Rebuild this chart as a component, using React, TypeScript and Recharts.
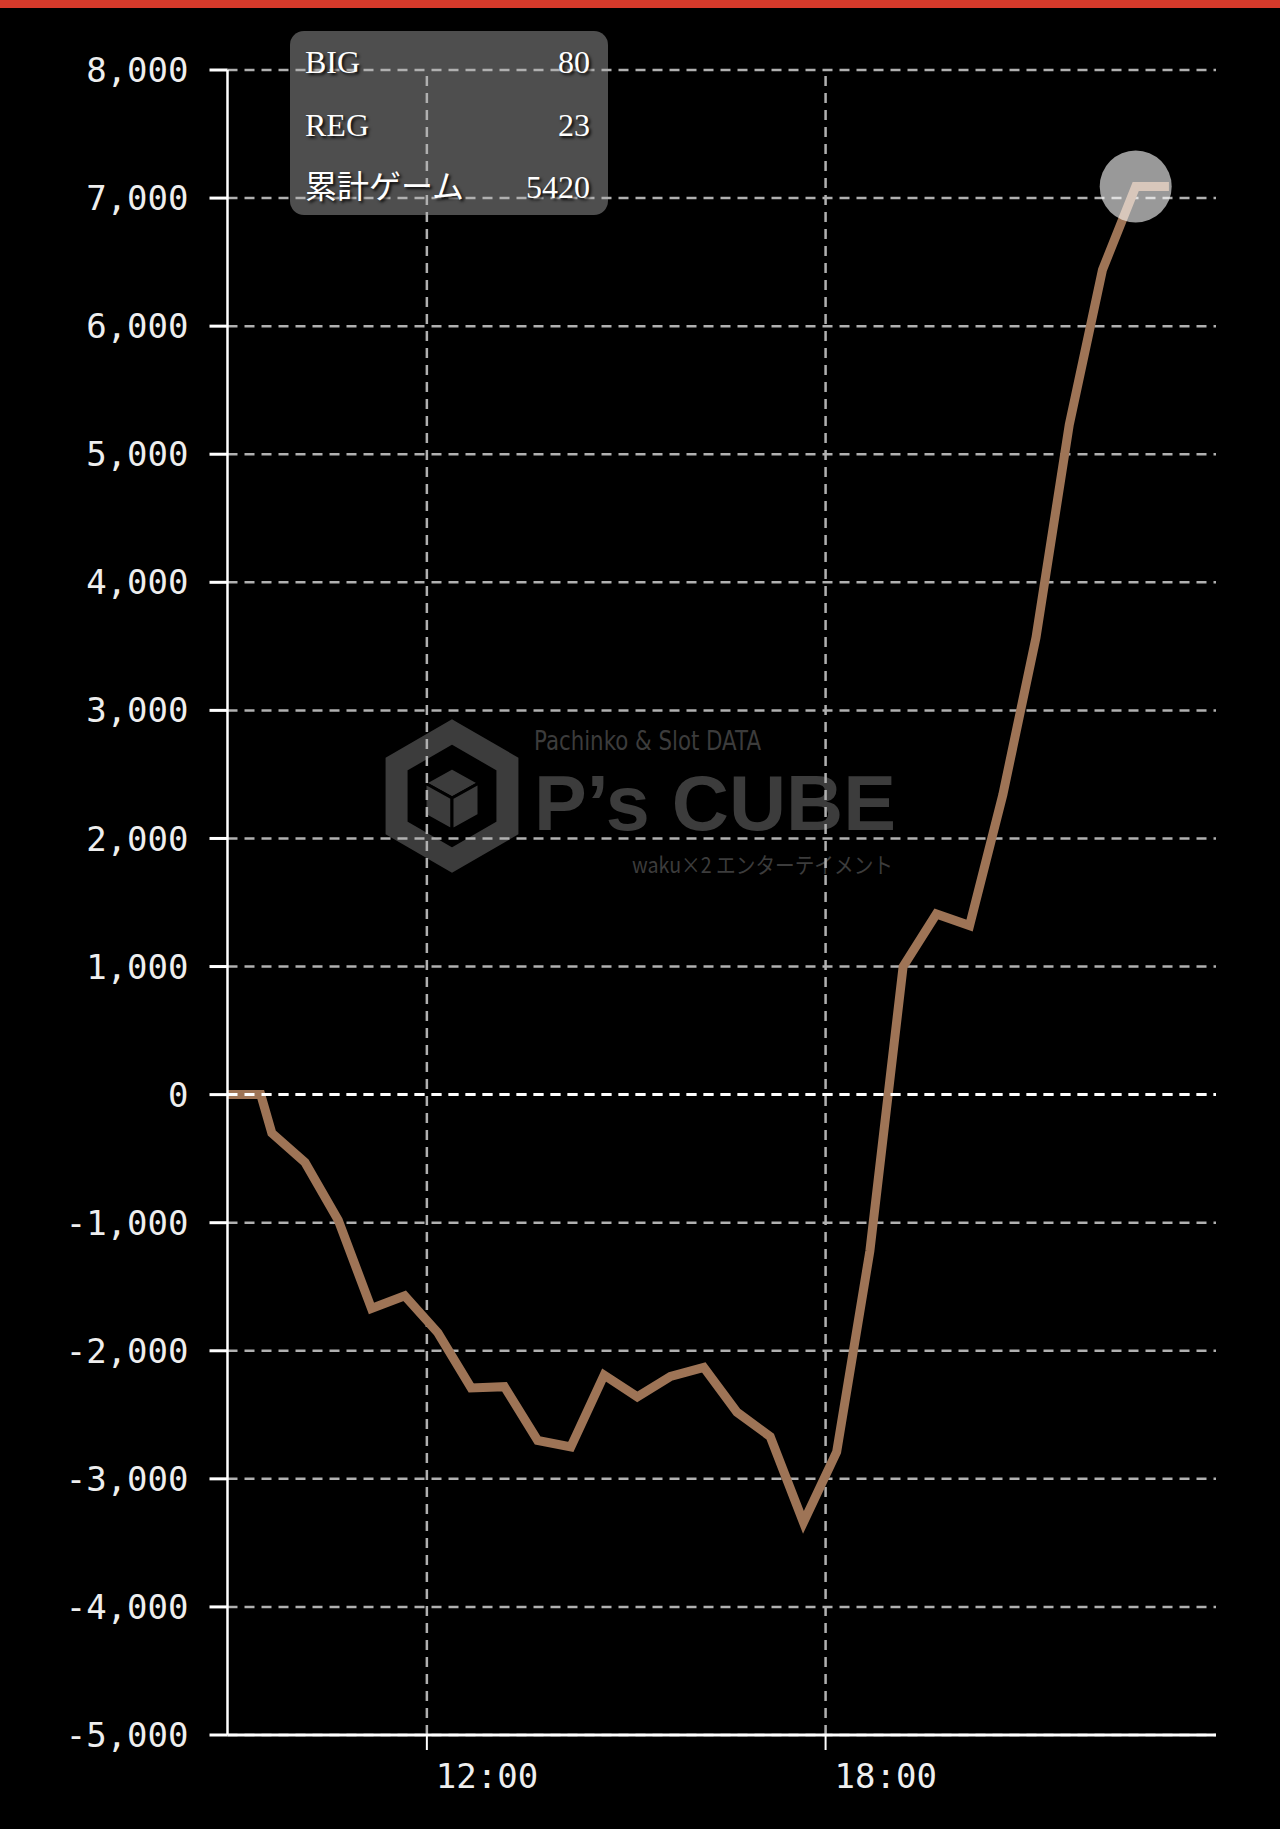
import React from 'react';
import { LineChart, Line, XAxis, YAxis, CartesianGrid, ReferenceLine } from 'recharts';

// ---- data ----
const timeLabels = ['9:00', '9:30', '9:40', '10:10', '10:40', '11:10', '11:40', '12:10', '12:40', '13:10', '13:40', '14:10', '14:40', '15:10', '15:40', '16:10', '16:40', '17:10', '17:40', '18:10', '18:40', '19:10', '19:40', '20:10', '20:40', '21:10', '21:40', '22:10', '22:40', '23:10'];
const diffValues = [0, 0, -300, -530, -980, -1670, -1570, -1860, -2290, -2280, -2700, -2750, -2190, -2360, -2200, -2130, -2480, -2670, -3340, -2790, -1220, 1000, 1410, 1320, 2340, 3570, 5230, 6440, 7090, 7090];
const yTicks = [-5000, -4000, -3000, -2000, -1000, 0, 1000, 2000, 3000, 4000, 5000, 6000, 7000, 8000];
const xTicks = [12, 18];
const xTickLabels = ['12:00', '18:00'];
const summaryLabels = ['BIG', 'REG', '累計ゲーム'];
const summaryValues = [80, 23, 5420];
const highlightIndex = 28;

const toHours = (s: string) => {
  const [h, m] = s.split(':').map(Number);
  return h + m / 60;
};
const data = timeLabels.map((t, i) => ({ t: toHours(t), v: diffValues[i] }));

const MONO = '"DejaVu Sans Mono", monospace';
const WM = '#3c3c3c';
const GRID = '#b0b0b0';
const DASH = '10 7';

const XTick = (props: any) => {
  const { x, y, payload } = props;
  const idx = xTicks.indexOf(payload.value);
  return (
    <text x={x + 9} y={y} dy="0.71em" fill="#eeeeee" fontSize={34} fontFamily={MONO} textAnchor="start">
      {idx >= 0 ? xTickLabels[idx] : ''}
    </text>
  );
};

const HighlightDot = (props: any) => {
  const { cx, cy, index } = props;
  if (index !== highlightIndex) return <g key={`d${index}`} />;
  return <circle key={`d${index}`} cx={cx} cy={cy} r={36} fill="rgba(255,255,255,0.6)" stroke="none" />;
};

const hexPoints = (cx: number, cy: number, r: number) =>
  Array.from({ length: 6 }, (_, k) => {
    const a = (Math.PI / 180) * (60 * k - 90);
    return `${cx + r * Math.cos(a)},${cy + r * Math.sin(a)}`;
  }).join(' ');

const Watermark = () => (
  <svg width={1280} height={1829} style={{ position: 'absolute', left: 0, top: 0 }}>
    <polygon points={hexPoints(452, 796, 64)} fill="none" stroke={WM} strokeWidth={22} />
    <polygon points="452,768 479,783 452,798 425,783" fill={WM} stroke="#000" strokeWidth={3} />
    <polygon points="425,783 452,798 452,830 425,815" fill={WM} stroke="#000" strokeWidth={3} />
    <polygon points="452,798 479,783 479,815 452,830" fill={WM} stroke="#000" strokeWidth={3} />
    <text x={534} y={750} fontSize={26} fontFamily='"DejaVu Sans", sans-serif' fill={WM} textLength={227} lengthAdjust="spacingAndGlyphs">
      Pachinko &amp; Slot DATA
    </text>
    <text x={534} y={830} fontSize={78} fontWeight="bold" fontFamily='"Liberation Sans", sans-serif' fill={WM} textLength={362} lengthAdjust="spacingAndGlyphs">
      P’s CUBE
    </text>
    <text x={632} y={873} fontSize={22} fontFamily='"Noto Sans CJK JP", sans-serif' fill={WM} textLength={261} lengthAdjust="spacingAndGlyphs">
      waku×2 エンターテイメント
    </text>
  </svg>
);

export default function App() {
  return (
    <div style={{ position: 'absolute', left: 0, top: 0, width: 1280, height: 1829, background: '#000', overflow: 'hidden' }}>
      <div style={{ position: 'absolute', left: 0, top: 0, width: 1280, height: 8, background: '#d63a2b' }} />
      <Watermark />
      <div
        style={{
          position: 'absolute',
          left: 290,
          top: 31,
          width: 318,
          height: 184,
          borderRadius: 14,
          background: '#4e4e4e',
        }}
      />
      <div style={{ position: 'absolute', left: 0, top: 0 }}>
        <LineChart width={1280} height={1829} data={data} margin={{ top: 70, right: 64, bottom: 0, left: 0 }}>
          <CartesianGrid strokeDasharray={DASH} stroke={GRID} strokeWidth={2.5} vertical={false} />
          {xTicks.map((t) => (
            <ReferenceLine key={`vx${t}`} x={t} stroke={GRID} strokeWidth={2.5} strokeDasharray={DASH} />
          ))}
          <XAxis
            dataKey="t"
            type="number"
            domain={[9, 23.875]}
            ticks={xTicks}
            interval={0}
            height={94}
            tickSize={15}
            tickMargin={14}
            axisLine={{ stroke: '#ffffff', strokeWidth: 3 }}
            tickLine={{ stroke: '#ffffff', strokeWidth: 2 }}
            tick={<XTick />}
            allowDataOverflow
          />
          <YAxis
            type="number"
            domain={[-5000, 8000]}
            ticks={yTicks}
            interval={0}
            width={227.5}
            tickSize={18}
            tickMargin={21}
            axisLine={{ stroke: '#ffffff', strokeWidth: 2.5 }}
            tickLine={{ stroke: '#ffffff', strokeWidth: 3 }}
            tick={{ fill: '#eeeeee', fontSize: 34, fontFamily: MONO }}
            tickFormatter={(v: number) => v.toLocaleString('en-US')}
          />
          <Line
            type="linear"
            dataKey="v"
            stroke="#9e7456"
            strokeWidth={9}
            dot={HighlightDot}
            activeDot={false}
            isAnimationActive={false}
          />
          <ReferenceLine y={0} stroke="#ffffff" strokeWidth={3} strokeDasharray={DASH} />
        </LineChart>
      </div>
      {summaryLabels.map((label, i) => (
        <div
          key={label}
          style={{
            position: 'absolute',
            left: 305,
            top: 46 + i * 62.5,
            width: 285,
            height: 32,
            lineHeight: '32px',
            fontSize: 32,
            fontFamily: '"Liberation Serif", "Noto Sans CJK JP", serif',
            color: '#ffffff',
            textShadow: '2px 2px 3px rgba(0,0,0,0.9)',
            display: 'flex',
            justifyContent: 'space-between',
            whiteSpace: 'nowrap',
          }}
        >
          <span>{label}</span>
          <span>{summaryValues[i]}</span>
        </div>
      ))}
    </div>
  );
}
